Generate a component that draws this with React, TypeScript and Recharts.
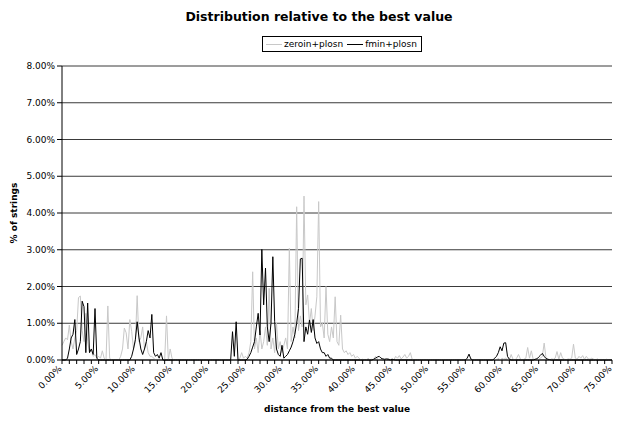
import React from 'react'
import { CartesianGrid, Line, LineChart, XAxis, YAxis } from 'recharts'

// one category every 0.25 % of distance, 0 .. 75 %
const STEP = 0.25

// % of strings, zeroin+plosn (grey)
const zeroinPlosn = [
  0.4, 0.5, 0.6, 0.55, 0.95, 0.5, 0.3, 0.6, 0.8, 1.7, 1.74, 0.8, 0.5, 1.27, 0.5, 0.2, 0.3, 0.1, 0.15, 0.05,
  0.1, 0.05, 0.25, 0.05, 0, 1.47, 0.05, 0, 0, 0, 0, 0, 0.1, 0.3, 0.87, 0.74, 0.3, 1.1, 0.78, 0.3,
  0.5, 1.75, 0.5, 0.6, 0.9, 0.3, 0.5, 0.2, 0.1, 0.1, 0.05, 0, 0, 0, 0, 0, 0, 1.2, 0, 0.3,
  0.05, 0, 0, 0, 0, 0, 0, 0, 0, 0, 0, 0, 0, 0, 0, 0, 0, 0, 0, 0,
  0, 0, 0, 0, 0, 0, 0, 0, 0, 0, 0, 0, 0, 0, 0, 0, 0, 0.05, 0.2, 0.05,
  0.1, 0.05, 0.2, 0.5, 2.4, 0.3, 0.6, 0.2, 0.8, 0.3, 0.5, 0.9, 0.4, 1.95, 0.3, 0.6, 0.2, 1.0, 0.3, 0.5,
  0.2, 0.4, 0.6, 0.3, 3.04, 0.5, 0.9, 0.6, 4.17, 0.8, 1.2, 0.9, 4.46, 1.5, 1.77, 1.0, 1.4, 0.8, 1.2, 1.72,
  4.31, 0.9, 1.0, 0.6, 2.0, 0.7, 0.5, 0.9, 0.6, 1.72, 0.5, 0.4, 1.22, 0.3, 0.2, 0.25, 0.15, 0.2, 0.1, 0.15,
  0.05, 0.1, 0.05, 0, 0.02, 0, 0, 0.05, 0, 0.02, 0, 0.1, 0.03, 0, 0, 0.02, 0, 0, 0.05, 0,
  0.03, 0, 0.1, 0.05, 0.12, 0.03, 0.08, 0.15, 0.05, 0.1, 0.2, 0.02, 0, 0, 0, 0, 0, 0, 0, 0,
  0, 0, 0, 0, 0, 0, 0, 0, 0, 0, 0, 0, 0, 0, 0, 0, 0, 0, 0, 0,
  0, 0, 0, 0, 0, 0, 0, 0, 0, 0, 0, 0, 0, 0, 0, 0, 0.02, 0, 0.05, 0,
  0.05, 0.02, 0.05, 0.02, 0, 0.15, 0.02, 0, 0.05, 0.15, 0.03, 0, 0.02, 0.05, 0.34, 0.05, 0.25, 0.02, 0, 0.03,
  0.02, 0.05, 0.1, 0.46, 0.05, 0.02, 0, 0.03, 0.02, 0.05, 0.23, 0.02, 0.2, 0.05, 0.02, 0, 0.03, 0.02, 0.05, 0.43,
  0.05, 0.02, 0.1, 0.05, 0.12, 0.02, 0.1, 0.03, 0.02, 0.05, 0.02, 0, 0.03, 0, 0.02, 0, 0, 0.02, 0, 0,
  0,
]

// % of strings, fmin+plosn (black)
const fminPlosn = [
  0, 0, 0, 0.05, 0.3, 0.6, 0.7, 1.1, 0.15, 0.3, 0.5, 1.6, 1.45, 0.2, 1.55, 0.2, 0.3, 0.15, 1.4, 0.05,
  0, 0, 0, 0, 0, 0, 0, 0, 0, 0, 0, 0, 0, 0, 0, 0, 0, 0, 0.1, 0.3,
  0.55, 1.04, 0.6, 0.3, 0.15, 0.3, 0.5, 0.8, 0.6, 1.24, 0.2, 0.1, 0.15, 0.05, 0.2, 0, 0, 0, 0, 0,
  0, 0, 0, 0, 0, 0, 0, 0, 0, 0, 0, 0, 0, 0, 0, 0, 0, 0, 0, 0,
  0, 0, 0, 0, 0, 0, 0, 0, 0, 0, 0, 0, 0, 0.77, 0.1, 1.04, 0, 0, 0, 0,
  0, 0.02, 0.1, 0.2, 0.35, 0.5, 0.9, 1.27, 0.68, 3.01, 1.5, 2.5, 0.9, 0.5, 1.0, 2.81, 1.04, 0.3, 0.15, 0.1,
  0.4, 0.05, 0.1, 0.15, 0.25, 0.35, 0.5, 0.7, 1.0, 1.4, 2.75, 2.77, 0.5, 0.9, 0.7, 1.09, 0.75, 1.1, 0.6, 0.45,
  0.5, 0.3, 0.2, 0.2, 0.1, 0.15, 0.05, 0.05, 0, 0, 0, 0, 0, 0, 0, 0, 0, 0, 0, 0,
  0, 0, 0, 0, 0, 0, 0, 0, 0, 0, 0.02, 0.05, 0.08, 0.1, 0.05, 0.03, 0.02, 0.03, 0.02, 0,
  0.02, 0.01, 0, 0, 0, 0, 0, 0, 0, 0, 0, 0, 0, 0, 0, 0, 0, 0, 0, 0,
  0, 0, 0, 0, 0, 0, 0, 0, 0, 0, 0, 0, 0, 0, 0, 0, 0, 0, 0, 0,
  0, 0.05, 0.16, 0.03, 0, 0, 0, 0, 0, 0, 0, 0, 0, 0, 0, 0, 0.05, 0.1, 0.2, 0.36,
  0.25, 0.46, 0.47, 0.1, 0.02, 0, 0, 0, 0, 0, 0, 0, 0, 0, 0, 0, 0, 0, 0.02, 0.03,
  0.08, 0.13, 0.18, 0.1, 0.04, 0.02, 0.01, 0, 0, 0, 0, 0, 0, 0, 0, 0, 0, 0, 0, 0,
  0, 0, 0, 0, 0, 0, 0, 0, 0, 0, 0, 0, 0, 0, 0, 0, 0, 0, 0, 0,
  0,
]

const yTicks = [0, 1, 2, 3, 4, 5, 6, 7, 8]
const xTicks = [
  0, 1, 2, 3, 4, 5, 6, 7, 8, 9, 10, 11, 12, 13, 14, 15, 16, 17, 18, 19,
  20, 21, 22, 23, 24, 25, 26, 27, 28, 29, 30, 31, 32, 33, 34, 35, 36, 37, 38, 39,
  40, 41, 42, 43, 44, 45, 46, 47, 48, 49, 50, 51, 52, 53, 54, 55, 56, 57, 58, 59,
  60, 61, 62, 63, 64, 65, 66, 67, 68, 69, 70, 71, 72, 73, 74, 75,
]
const LABEL_EVERY = 5

const data = zeroinPlosn.map((v, i) => ({
  x: i * STEP,
  zeroin: v,
  fmin: fminPlosn[i],
}))

const FONT = '"DejaVu Sans", Verdana, sans-serif'
const GREY = '#c8c8c8'

const pct = (v: number) => `${v.toFixed(2)}%`

function XTick({ x, y, payload }: any) {
  const v = payload.value
  if (Math.round(v) % LABEL_EVERY !== 0) return <g />
  const tx = x - 2
  const ty = y + 3
  return (
    <text
      x={tx}
      y={ty}
      transform={`rotate(-45 ${tx} ${ty})`}
      textAnchor="end"
      dy="0.35em"
      fontSize={9}
      fontFamily={FONT}
      fill="#000"
    >
      {pct(v)}
    </text>
  )
}

function LegendBox() {
  const item = (color: string, text: string) => (
    <span style={{ display: 'inline-flex', alignItems: 'center', marginRight: 4 }}>
      <span
        style={{
          display: 'inline-block',
          width: 16,
          height: 0,
          borderTop: `1px solid ${color}`,
          marginRight: 2,
        }}
      />
      {text}
    </span>
  )
  return (
    <div
      style={{
        position: 'absolute',
        left: 262,
        top: 36,
        height: 14,
        padding: '0 0 0 3px',
        border: '1px solid #000',
        display: 'flex',
        alignItems: 'center',
        fontFamily: FONT,
        fontSize: 9,
        lineHeight: '14px',
        background: '#fff',
        whiteSpace: 'nowrap',
      }}
    >
      {item(GREY, 'zeroin+plosn')}
      {item('#000', 'fmin+plosn')}
    </div>
  )
}

export default function App() {
  return (
    <div
      style={{
        position: 'absolute',
        left: 0,
        top: 0,
        width: 626,
        height: 422,
        background: '#fff',
        fontFamily: FONT,
      }}
    >
      <div
        style={{
          position: 'absolute',
          left: 0,
          top: 9,
          width: 638,
          textAlign: 'center',
          fontWeight: 'bold',
          fontSize: 12.5,
          color: '#000',
        }}
      >
        Distribution relative to the best value
      </div>
      <LegendBox />
      <LineChart
        width={626}
        height={422}
        data={data}
        margin={{ top: 66, right: 14, bottom: 6, left: 0 }}
      >
        <CartesianGrid vertical={false} stroke="#3a3a3a" />
        <XAxis
          dataKey="x"
          type="number"
          domain={[0, 75]}
          ticks={xTicks}
          interval={0}
          height={56}
          tickSize={4}
          tickMargin={0}
          stroke="#000"
          tick={<XTick />}
          label={{
            value: 'distance from the best value',
            position: 'insideBottom',
            offset: 4,
            style: { fontFamily: FONT, fontSize: 9, fontWeight: 'bold', fill: '#000' },
          }}
        />
        <YAxis
          width={62}
          domain={[0, 8]}
          ticks={yTicks}
          interval={0}
          tickSize={5}
          stroke="#000"
          tickFormatter={pct}
          tick={{ fontSize: 9, fontFamily: FONT, fill: '#000' }}
          label={{
            value: '% of strings',
            angle: -90,
            position: 'insideLeft',
            offset: 14,
            style: { textAnchor: 'middle', fontFamily: FONT, fontSize: 9, fontWeight: 'bold', fill: '#000' },
          }}
        />
        <Line
          dataKey="zeroin"
          name="zeroin+plosn"
          stroke={GREY}
          strokeWidth={1}
          dot={false}
          isAnimationActive={false}
        />
        <Line
          dataKey="fmin"
          name="fmin+plosn"
          stroke="#000"
          strokeWidth={1}
          dot={false}
          isAnimationActive={false}
        />
      </LineChart>
    </div>
  )
}
